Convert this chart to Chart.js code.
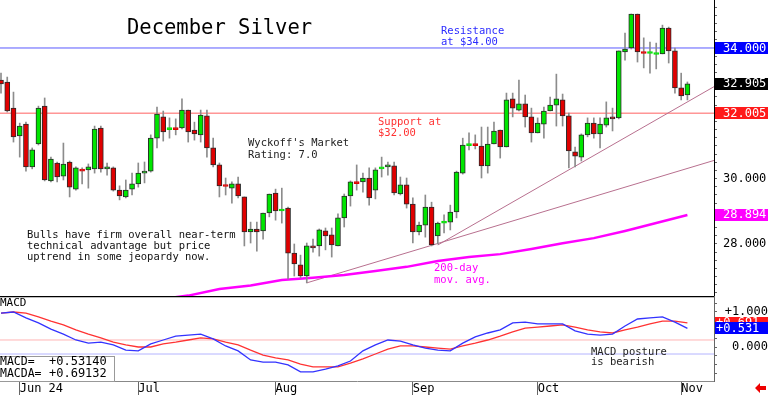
<!DOCTYPE html>
<html>
<head>
<meta charset="utf-8">
<script src="https://cdn.jsdelivr.net/npm/chart.js@4.4.1/dist/chart.umd.min.js"></script>
<style>
  body { margin: 0; background: #fff; }
  #wrap { position: relative; width: 768px; height: 395px; overflow: hidden; background: #fff; }
  canvas { position: absolute; left: 0; }
  #priceChart { top: 0; }
  #macdChart { top: 296px; }
</style>
</head>
<body>
<div id="wrap">
  <canvas id="priceChart" width="768" height="296"></canvas>
  <canvas id="macdChart" width="768" height="99"></canvas>
</div>
<script>
// daily bars, index 0 = May 29 2024 ... index 110 = Nov 4 2024
var opens = [33.02, 32.96, 32.16, 31.31, 31.67, 30.36, 31.06, 32.22, 29.93, 30.48,
  30.08, 30.51, 29.68, 30.27, 30.27, 30.30, 31.55, 30.30, 30.33, 29.65,
  29.44, 29.68, 29.84, 30.17, 30.23, 31.24, 31.89, 31.50, 31.52, 31.55,
  32.10, 31.49, 31.34, 31.92, 30.94, 30.42, 29.79, 29.71, 29.84, 29.44,
  28.37, 28.46, 28.40, 28.95, 29.56, 29.01, 29.10, 27.72, 27.36, 27.02,
  27.94, 27.94, 28.40, 28.28, 27.94, 28.80, 29.47, 29.88, 29.90, 30.02,
  29.65, 30.30, 30.36, 30.39, 29.53, 29.81, 29.22, 28.37, 28.58, 29.13,
  28.25, 28.64, 28.67, 28.98, 30.17, 31.01, 31.05, 31.00, 30.39, 31.06,
  31.49, 30.97, 32.44, 32.10, 32.29, 31.89, 31.40, 31.67, 32.07, 32.25,
  32.41, 31.92, 30.82, 30.66, 31.34, 31.70, 31.37, 31.64, 31.89, 31.86,
  33.88, 34.00, 35.04, 33.86, 33.83, 33.80, 33.82, 34.61, 33.91, 32.78,
  32.56];
var highs = [33.23, 33.11, 32.65, 31.70, 31.73, 30.94, 32.22, 32.47, 30.66, 30.51,
  31.09, 30.54, 30.36, 30.33, 30.45, 31.61, 31.61, 30.48, 30.36, 29.78,
  29.96, 30.17, 30.48, 30.51, 31.34, 32.19, 32.07, 31.86, 31.83, 32.44,
  32.10, 31.73, 32.10, 32.10, 31.24, 30.48, 30.02, 29.90, 30.05, 29.44,
  28.67, 28.67, 28.95, 29.53, 29.68, 29.71, 29.13, 28.00, 27.66, 28.03,
  28.15, 28.46, 28.49, 28.49, 28.92, 29.53, 29.93, 30.42, 30.17, 30.33,
  30.33, 30.66, 30.51, 30.51, 30.05, 30.02, 29.41, 28.67, 29.50, 29.28,
  28.67, 28.89, 29.19, 30.23, 31.24, 31.40, 31.34, 31.58, 31.58, 31.73,
  31.49, 32.62, 32.62, 33.02, 32.56, 32.16, 31.86, 32.19, 32.50, 33.20,
  32.59, 32.01, 30.97, 31.37, 31.86, 31.86, 31.86, 32.35, 32.16, 33.91,
  34.46, 35.04, 35.04, 34.31, 34.18, 34.15, 34.70, 34.64, 34.00, 33.23,
  32.96];
var lows = [32.62, 32.04, 31.12, 30.66, 30.23, 30.30, 31.03, 29.93, 29.90, 29.90,
  29.96, 29.44, 29.65, 29.84, 29.71, 30.17, 30.20, 30.11, 29.62, 29.35,
  29.41, 29.50, 29.74, 29.87, 30.20, 30.94, 31.15, 31.24, 31.34, 31.52,
  31.12, 31.18, 31.12, 30.66, 30.36, 29.44, 29.50, 29.25, 29.41, 27.94,
  28.03, 27.78, 28.15, 28.83, 28.73, 28.64, 26.93, 27.02, 26.96, 26.81,
  27.75, 27.63, 27.82, 27.60, 27.94, 28.52, 29.16, 29.65, 29.59, 29.19,
  29.38, 30.05, 30.11, 29.50, 29.50, 29.10, 28.03, 28.28, 28.21, 27.94,
  28.00, 28.34, 28.43, 28.80, 30.14, 30.88, 30.91, 30.02, 30.17, 31.06,
  30.63, 30.97, 31.89, 32.07, 31.58, 31.12, 31.40, 31.24, 32.07, 31.61,
  31.61, 30.33, 30.36, 30.54, 31.28, 31.24, 30.94, 31.58, 31.46, 31.83,
  33.63, 33.97, 33.57, 33.39, 33.23, 33.36, 33.82, 33.54, 32.62, 32.41,
  32.41];
var closes = [32.90, 32.07, 31.28, 31.61, 30.36, 30.88, 32.16, 29.96, 30.60, 30.05,
  30.45, 29.74, 30.33, 30.23, 30.36, 31.52, 30.30, 30.36, 29.65, 29.47,
  29.65, 29.84, 30.17, 30.23, 31.24, 31.98, 31.43, 31.52, 31.50, 32.10,
  31.43, 31.37, 31.95, 30.94, 30.42, 29.78, 29.76, 29.84, 29.47, 28.37,
  28.46, 28.37, 28.95, 29.53, 29.01, 29.04, 27.72, 27.39, 27.02, 27.94,
  27.88, 28.43, 28.25, 27.97, 28.80, 29.47, 29.90, 29.85, 30.02, 29.41,
  30.27, 30.34, 30.42, 29.56, 29.81, 29.22, 28.37, 28.58, 29.13, 27.97,
  28.64, 28.67, 28.98, 30.20, 31.03, 31.05, 31.01, 30.39, 31.06, 31.46,
  30.97, 32.41, 32.16, 32.29, 31.89, 31.40, 31.70, 32.07, 32.25, 32.44,
  31.92, 30.85, 30.69, 31.34, 31.70, 31.37, 31.67, 31.86, 31.83, 33.91,
  33.97, 35.04, 33.88, 33.83, 33.86, 33.83, 34.61, 33.91, 32.78, 32.53,
  32.905];

// 200-day moving average (read every 5 bars)
var maIndex = [25, 30, 35, 40, 45, 50, 55, 60, 65, 70, 75, 80, 85, 90, 95, 100, 105, 110];
var maValues = [26.30, 26.42, 26.62, 26.73, 26.90, 26.97, 27.05, 27.17, 27.30, 27.48,
  27.60, 27.69, 27.85, 28.02, 28.18, 28.40, 28.64, 28.89];

// trend lines: [start index, start price, end index, end price]
var trendLow = [49, 26.81, 114.3, 30.56];
var trendSep = [70, 27.97, 114.3, 32.82];
var resistance = 34.0;
var support = 32.005;

// MACD (blue) and signal (red), read every 2 bars
var macdIndex = [0, 2, 4, 6, 8, 10, 12, 14, 16, 18, 20, 22, 24, 26, 28, 30, 32, 34, 36, 38,
  40, 42, 44, 46, 48, 50, 52, 54, 56, 58, 60, 62, 64, 66, 68, 70, 72, 74, 76, 78,
  80, 82, 84, 86, 88, 90, 92, 94, 96, 98, 100, 102, 104, 106, 108, 110];
var macdValues = [0.97, 1.00, 0.83, 0.69, 0.51, 0.37, 0.20, 0.11, 0.14, 0.06,
  -0.09, -0.11, 0.09, 0.20, 0.31, 0.34, 0.37, 0.23, 0.03, -0.11,
  -0.37, -0.43, -0.43, -0.51, -0.71, -0.71, -0.63, -0.54, -0.40, -0.11,
  0.06, 0.20, 0.17, 0.06, -0.03, -0.09, -0.11, 0.11, 0.29, 0.40,
  0.49, 0.69, 0.71, 0.66, 0.66, 0.66, 0.46, 0.37, 0.34, 0.37,
  0.60, 0.80, 0.83, 0.86, 0.71, 0.531];
var signalValues = [0.97, 1.00, 0.97, 0.86, 0.74, 0.63, 0.49, 0.37, 0.26, 0.14,
  0.06, 0.00, 0.00, 0.09, 0.14, 0.20, 0.26, 0.23, 0.14, 0.06,
  -0.09, -0.23, -0.31, -0.37, -0.49, -0.57, -0.57, -0.57, -0.46, -0.34,
  -0.20, -0.06, 0.03, 0.03, 0.00, -0.03, -0.06, 0.03, 0.11, 0.20,
  0.31, 0.43, 0.54, 0.57, 0.60, 0.63, 0.57, 0.49, 0.43, 0.40,
  0.49, 0.57, 0.66, 0.74, 0.74, 0.691];
var macdLevels = [0.2, -0.2];
var macdReadout = ['+0.53140', '+0.69132'];

var tickIndex = [3, 22, 44, 66, 86, 109];
var tickLabels = ['Jun 24', 'Jul', 'Aug', 'Sep', 'Oct', 'Nov'];

var priceTags = [34.0, 32.905, 32.005, 28.894];
var priceTagColors = ['#0000ff', '#000000', '#ff1a1a', '#ff00ff'];
var macdTags = [0.691, 0.531];
var macdTagColors = ['#ff1a1a', '#0000ff'];

var X_MIN = -0.16, X_MAX = 114.26;
var GREEN = '#00e600', RED = '#e00000';
var FONT = "'DejaVu Sans Mono', monospace";

Chart.defaults.font.family = FONT;
Chart.defaults.color = '#000';

function pts(xs, ys) {
    return xs.map(function (x, k) { return {x: x, y: ys[k]}; });
}

function writeLines(ctx, lines, x, y, lh, size, color) {
    ctx.save();
    ctx.fillStyle = color;
    ctx.font = size + 'px ' + FONT;
    ctx.textAlign = 'left';
    ctx.textBaseline = 'middle';
    lines.forEach(function (t, k) { ctx.fillText(t, x, y + k * lh); });
    ctx.restore();
}

function drawTags(ctx, scale, values, colors, textX, sign) {
    ctx.save();
    ctx.font = '12px ' + FONT;
    ctx.textBaseline = 'middle';
    values.forEach(function (v, k) {
        var y = scale.getPixelForValue(v);
        ctx.fillStyle = colors[k];
        ctx.fillRect(scale.left + 1, Math.round(y) - 6, scale.width, 12);
        ctx.fillStyle = '#fff';
        ctx.fillText(sign + v.toFixed(3), textX, y + 0.5);
    });
    ctx.restore();
}

// keep the plot area edge to edge: no room reserved for half labels
function squeeze(s) {
    s.paddingTop = 0;
    s.paddingBottom = 0;
    s.paddingLeft = 0;
    s.paddingRight = 0;
}

var isUp = function (i) { return closes[i] >= opens[i]; };
var isDoji = function (i) { return Math.abs(closes[i] - opens[i]) < 0.05; };

var priceNotes = {
    id: 'priceNotes',
    afterDraw: function (chart) {
        var ctx = chart.ctx;
        drawTags(ctx, chart.scales.y, priceTags, priceTagColors, 723, '');
        writeLines(ctx, ['December Silver'], 127, 29, 0, 20.5, '#000');
        writeLines(ctx, ['Resistance', 'at $34.00'], 441, 31, 11, 10.5, '#2b2bff');
        writeLines(ctx, ['Support at', '$32.00'], 378, 122, 11, 10.5, '#ff3030');
        writeLines(ctx, ["Wyckoff's Market", 'Rating: 7.0'], 248, 143, 12, 10.5, '#222');
        writeLines(ctx, ['Bulls have firm overall near-term', 'technical advantage but price',
            'uptrend in some jeopardy now.'], 27, 235, 11, 10.5, '#111');
        writeLines(ctx, ['200-day', 'mov. avg.'], 434, 268, 12, 10.5, '#ff00ff');
    }
};

var macdNotes = {
    id: 'macdNotes',
    afterDraw: function (chart) {
        var ctx = chart.ctx;
        var area = chart.chartArea;
        ctx.save();
        ctx.strokeStyle = '#000';
        ctx.lineWidth = 1.5;
        ctx.beginPath();
        ctx.moveTo(0, area.top + 0.5);
        ctx.lineTo(area.right, area.top + 0.5);
        ctx.stroke();
        // value box
        ctx.fillStyle = '#fff';
        ctx.fillRect(0, 60, 115, area.bottom - 60);
        ctx.strokeStyle = '#999';
        ctx.lineWidth = 1;
        ctx.strokeRect(-1.5, 60.5, 116, area.bottom - 60);
        // arrow
        ctx.fillStyle = '#ee0000';
        ctx.beginPath();
        ctx.moveTo(755, 92);
        ctx.lineTo(760, 87);
        ctx.lineTo(760, 90);
        ctx.lineTo(766, 90);
        ctx.lineTo(766, 94);
        ctx.lineTo(760, 94);
        ctx.lineTo(760, 97);
        ctx.closePath();
        ctx.fill();
        ctx.restore();
        writeLines(ctx, ['MACD'], 0, 7, 0, 11, '#000');
        writeLines(ctx, ['MACD=', 'MACDA='], 0, 66, 12, 11.5, '#000');
        writeLines(ctx, macdReadout, 49, 66, 12, 12, '#000');
        writeLines(ctx, ['MACD posture', 'is bearish'], 591, 56, 10, 10.5, '#222');
        drawTags(ctx, chart.scales.y, macdTags, macdTagColors, 716, '+');
    }
};

new Chart(document.getElementById('priceChart'), {
    type: 'bar',
    data: {
        datasets: [{
                label: 'bodies',
                data: opens.map(function (o, i) { return {x: i, y: [o, closes[i]]}; }),
                backgroundColor: function (c) { return isUp(c.dataIndex) ? GREEN : RED; },
                borderColor: function (c) {
                    if (isDoji(c.dataIndex)) return isUp(c.dataIndex) ? GREEN : RED;
                    return '#2a2a2a';
                },
                borderWidth: 1,
                borderSkipped: false,
                barThickness: 5,
                minBarLength: 2,
                grouped: false,
                order: 0
            },
            {
                label: 'wicks',
                data: lows.map(function (l, i) { return {x: i, y: [l, highs[i]]}; }),
                backgroundColor: '#8c8c8c',
                barThickness: 1,
                grouped: false,
                order: 1
            },
            {
                type: 'line',
                label: '200-day',
                data: pts(maIndex, maValues),
                borderColor: '#ff00ff',
                borderWidth: 2.5,
                pointRadius: 0,
                order: 3
            },
            {
                type: 'line',
                label: 'trend 1',
                data: [{x: trendLow[0], y: trendLow[1]}, {x: trendLow[2], y: trendLow[3]}],
                borderColor: '#b8708f',
                borderWidth: 1,
                pointRadius: 0,
                order: 4
            },
            {
                type: 'line',
                label: 'trend 2',
                data: [{x: trendSep[0], y: trendSep[1]}, {x: trendSep[2], y: trendSep[3]}],
                borderColor: '#b8708f',
                borderWidth: 1,
                pointRadius: 0,
                order: 4
            },
            {
                type: 'line',
                label: 'resistance',
                data: [{x: X_MIN, y: resistance}, {x: X_MAX, y: resistance}],
                borderColor: '#5a5aff',
                borderWidth: 1,
                pointRadius: 0,
                order: 5
            },
            {
                type: 'line',
                label: 'support',
                data: [{x: X_MIN, y: support}, {x: X_MAX, y: support}],
                borderColor: '#ff6060',
                borderWidth: 1,
                pointRadius: 0,
                order: 5
            }
        ]
    },
    options: {
        responsive: false,
        animation: false,
        events: [],
        layout: {padding: 0},
        plugins: {legend: {display: false}, tooltip: {enabled: false}},
        scales: {
            x: {type: 'linear', min: X_MIN, max: X_MAX, offset: false, display: false},
            y: {
                position: 'right',
                min: 26.408,
                max: 35.469,
                afterFit: function (s) { s.width = 54; squeeze(s); },
                afterBuildTicks: function (s) {
                    var t = [];
                    for (var v = 26.5; v <= 35.25; v += 0.25) t.push({value: v});
                    s.ticks = t;
                },
                ticks: {
                    autoSkip: false,
                    padding: 6,
                    font: {size: 12},
                    color: '#000',
                    callback: function (v) { return (v === 28 || v === 30) ? v.toFixed(3) : ''; }
                },
                grid: {drawOnChartArea: false, tickLength: 3, color: '#666'},
                border: {color: '#000'}
            }
        }
    },
    plugins: [priceNotes]
});

new Chart(document.getElementById('macdChart'), {
    type: 'line',
    data: {
        datasets: [{
                label: 'MACD',
                data: pts(macdIndex, macdValues),
                borderColor: '#3333ff',
                borderWidth: 1.3,
                pointRadius: 0
            },
            {
                label: 'MACDA',
                data: pts(macdIndex, signalValues),
                borderColor: '#ff3333',
                borderWidth: 1.3,
                pointRadius: 0
            },
            {
                label: 'upper',
                data: [{x: X_MIN, y: macdLevels[0]}, {x: X_MAX, y: macdLevels[0]}],
                borderColor: '#ffb4b4',
                borderWidth: 1,
                pointRadius: 0
            },
            {
                label: 'lower',
                data: [{x: X_MIN, y: macdLevels[1]}, {x: X_MAX, y: macdLevels[1]}],
                borderColor: '#b4b4ff',
                borderWidth: 1,
                pointRadius: 0
            }
        ]
    },
    options: {
        responsive: false,
        animation: false,
        events: [],
        layout: {padding: 0},
        plugins: {legend: {display: false}, tooltip: {enabled: false}},
        scales: {
            x: {
                type: 'linear',
                min: X_MIN,
                max: X_MAX,
                offset: false,
                afterBuildTicks: function (s) {
                    s.ticks = tickIndex.map(function (v) { return {value: v}; });
                },
                afterFit: function (s) { s.height = 14; squeeze(s); },
                ticks: {
                    autoSkip: false,
                    maxRotation: 0,
                    align: 'start',
                    padding: -13,
                    font: {size: 12},
                    color: '#000',
                    callback: function (v) { return tickLabels[tickIndex.indexOf(v)]; }
                },
                grid: {drawOnChartArea: false, tickLength: 14, color: '#666'},
                border: {color: '#888'}
            },
            y: {
                position: 'right',
                min: -0.9714,
                max: 1.4571,
                afterFit: function (s) { s.width = 54; squeeze(s); },
                afterBuildTicks: function (s) {
                    var t = [];
                    for (var v = -0.75; v <= 1.25; v += 0.25) t.push({value: v});
                    s.ticks = t;
                },
                ticks: {
                    autoSkip: false,
                    padding: 0,
                    crossAlign: 'far',
                    font: {size: 12},
                    color: '#000',
                    callback: function (v) { return v === 1 ? '+1.000' : (v === 0 ? '0.000' : ''); }
                },
                grid: {drawOnChartArea: false, tickLength: 3, color: '#666'},
                border: {color: '#666'}
            }
        }
    },
    plugins: [macdNotes]
});
</script>
</body>
</html>
